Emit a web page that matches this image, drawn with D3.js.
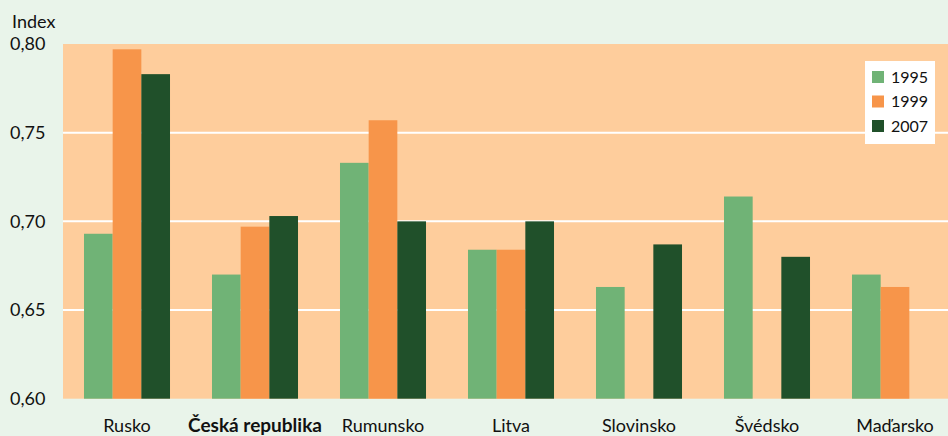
<!DOCTYPE html>
<html><head><meta charset="utf-8">
<script src="https://cdn.jsdelivr.net/npm/d3@7"></script>
<style>body{margin:0;background:#e9f4ea;}svg{display:block;}</style>
</head><body><svg id="c" width="948" height="436"></svg>
<script>
const categories = ["Rusko","Česká republika","Rumunsko","Litva","Slovinsko","Švédsko","Maďarsko"];
const seriesNames = ["1995","1999","2007"];
const v1995 = [0.693,0.670,0.733,0.684,0.663,0.714,0.670];
const v1999 = [0.797,0.697,0.757,0.684,null,null,0.663];
const v2007 = [0.783,0.703,0.700,0.700,0.687,0.680,null];
const yTicks = [0.60,0.65,0.70,0.75,0.80];
const colors = ["#70b376","#f7954a","#20502a"];

(function(){
const svg = d3.select("#c");
const W=948,H=436, mLeft=63, mTop=44, mBottom=398.7;
svg.append("rect").attr("width",W).attr("height",H).attr("fill","#e9f4ea");
const y = d3.scaleLinear().domain([0.60,0.80]).range([mBottom,mTop]);
const x0 = d3.scaleBand().domain(categories).range([mLeft,mLeft+896]).paddingInner(0.328).paddingOuter(0.164);
const x1 = d3.scaleBand().domain(seriesNames).range([0,x0.bandwidth()]);
svg.append("rect").attr("x",mLeft).attr("y",mTop).attr("width",W-mLeft).attr("height",mBottom-mTop).attr("fill","#fecd9c");
svg.selectAll(".grid").data(yTicks.slice(1,4)).enter().append("line")
  .attr("x1",mLeft).attr("x2",W).attr("y1",d=>y(d)).attr("y2",d=>y(d))
  .attr("stroke","#fff").attr("stroke-width",2);
const series=[v1995,v1999,v2007];
categories.forEach((c,i)=>{
  series.forEach((s,j)=>{
    const v=s[i]; if(v==null) return;
    svg.append("rect").attr("x",x0(c)+x1(seriesNames[j])).attr("width",x1.bandwidth())
      .attr("y",y(v)).attr("height",y(0.60)-y(v)).attr("fill",colors[j]);
  });
});
const font="Lato, 'Open Sans', sans-serif";
svg.selectAll(".yl").data(yTicks).enter().append("text")
  .attr("x",10).attr("y",d=>y(d)).attr("dy","0.35em").attr("font-family",font).attr("font-size",18)
  .attr("fill","#111").text(d=>d3.format(".2f")(d).replace(".",","));
svg.append("text").attr("x",12).attr("y",28).attr("font-family",font).attr("font-size",18).attr("fill","#111").text("Index");
svg.selectAll(".xl").data(categories).enter().append("text")
  .attr("x",d=>x0(d)+x0.bandwidth()/2).attr("y",432).attr("text-anchor","middle")
  .attr("font-family",font).attr("font-size",d=>d==="Česká republika"?19:18).attr("fill","#111")
  .attr("font-weight",d=>d==="Česká republika"?"bold":"normal").text(d=>d);
const lg=svg.append("g");
lg.append("rect").attr("x",865).attr("y",61).attr("width",70).attr("height",83).attr("fill","#fff");
seriesNames.forEach((n,j)=>{
  const cy=77+j*24.5;
  lg.append("rect").attr("x",872).attr("y",cy-6).attr("width",12).attr("height",12).attr("fill",colors[j]);
  lg.append("text").attr("x",891).attr("y",cy).attr("dy","0.36em").attr("font-family",font).attr("font-size",16).attr("fill","#111").text(n);
});
})();
</script></body></html>
